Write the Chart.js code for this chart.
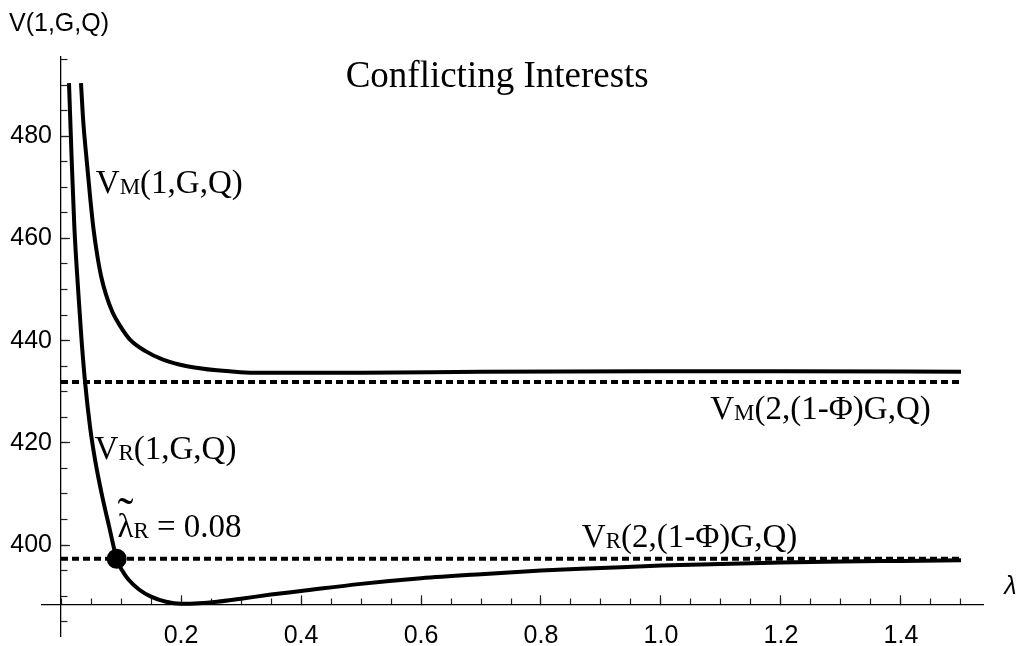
<!DOCTYPE html>
<html><head><meta charset="utf-8">
<script src="https://cdn.jsdelivr.net/npm/chart.js@4.4.1/dist/chart.umd.min.js"></script>
<style>html,body{margin:0;padding:0;background:#fff;}canvas{display:block;}</style>
</head><body>
<canvas id="c" width="1021" height="646"></canvas>
<script>
// ---- data ----
const lambdaVR = [0.0133, 0.0178, 0.0222, 0.0289, 0.034, 0.040, 0.0483, 0.0567, 0.0678, 0.0806, 0.0928, 0.102, 0.112, 0.130, 0.150, 0.175, 0.200, 0.230, 0.260, 0.300, 0.350, 0.400, 0.500, 0.600, 0.700, 0.800, 0.900, 1.000, 1.100, 1.200, 1.300, 1.400, 1.500];
const valuesVR = [490.4, 475.3, 462.3, 449.3, 440.5, 432.0, 423.2, 416.7, 410.0, 403.4, 397.3, 395.0, 393.3, 391.3, 389.9, 388.9, 388.5, 388.6, 388.9, 389.5, 390.3, 391.0, 392.4, 393.5, 394.3, 395.0, 395.5, 396.0, 396.3, 396.6, 396.8, 396.9, 397.0];
const lambdaVM = [0.0333, 0.037, 0.043, 0.049, 0.054, 0.060, 0.067, 0.075, 0.086, 0.099, 0.115, 0.140, 0.170, 0.210, 0.260, 0.330, 0.500, 0.700, 1.000, 1.200, 1.500];
const valuesVM = [490.4, 483.0, 475.0, 467.5, 462.0, 457.0, 452.5, 449.0, 445.5, 442.8, 440.2, 438.0, 436.3, 435.0, 434.2, 433.7, 433.7, 433.9, 434.0, 434.0, 433.9];
const vm2Value = 431.9;          // V_M(2,(1-Φ)G,Q)
const vr2Value = 397.3;          // V_R(2,(1-Φ)G,Q)
const dashLambda = [0, 1.5];
const crossLambda = 0.0928;      // marked point
const xTickValues = [0.2, 0.4, 0.6, 0.8, 1.0, 1.2, 1.4];
const xTickLabels = ['0.2', '0.4', '0.6', '0.8', '1.0', '1.2', '1.4'];
const yTickValues = [400, 420, 440, 460, 480];
const yTickLabels = ['400', '420', '440', '460', '480'];
const titleText = 'Conflicting Interests';
const yAxisTitle = 'V(1,G,Q)';
const xAxisTitle = 'λ';

const X_MIN = -0.0317, X_MAX = 1.5367, Y_MIN = 382.2, Y_MAX = 495.5, AXIS_Y = 388.3;
const SERIF = '"Liberation Serif", "Times New Roman", serif';
const SANS = '"Liberation Sans", Arial, sans-serif';

function drawSubLabel(ctx, x, y, main, sub, rest, size) {
  ctx.font = size + 'px ' + SERIF;
  ctx.textAlign = 'left'; ctx.textBaseline = 'alphabetic';
  ctx.fillText(main, x, y);
  let w = ctx.measureText(main).width;
  const subSize = Math.round(size * 0.71);
  ctx.font = subSize + 'px ' + SERIF;
  ctx.fillText(sub, x + w, y + 1);
  w += ctx.measureText(sub).width;
  ctx.font = size + 'px ' + SERIF;
  ctx.fillText(rest, x + w, y);
  return x + w + ctx.measureText(rest).width;
}

const textPlugin = {
  id: 'texts',
  afterDraw(chart) {
    const {ctx} = chart;
    const xs = chart.scales.x, ys = chart.scales.y;
    const px = v => xs.getPixelForValue(v), py = v => ys.getPixelForValue(v);
    ctx.save();
    ctx.fillStyle = '#000';
    // title
    ctx.font = '37px ' + SERIF; ctx.textAlign = 'center'; ctx.textBaseline = 'alphabetic';
    ctx.fillText(titleText, px(0.727), py(489.7));
    // axis titles
    ctx.font = '25px ' + SANS; ctx.textAlign = 'left';
    ctx.fillText(yAxisTitle, 9, 31);
    ctx.font = 'italic 25px ' + SANS;
    ctx.fillText(xAxisTitle, px(1.572), py(AXIS_Y) - 11);
    // curve labels
    drawSubLabel(ctx, px(0.058), py(468.9), 'V', 'M', '(1,G,Q)', 33);
    drawSubLabel(ctx, px(0.056), py(416.8), 'V', 'R', '(1,G,Q)', 33);
    drawSubLabel(ctx, px(1.082), py(424.6), 'V', 'M', '(2,(1-Φ)G,Q)', 33);
    drawSubLabel(ctx, px(0.868), py(399.6), 'V', 'R', '(2,(1-Φ)G,Q)', 33);
    // lambda tilde label
    const lx = px(0.094), ly = py(401.6);
    ctx.font = '33px ' + SERIF;
    const lw = ctx.measureText('λ').width;
    drawSubLabel(ctx, lx, ly, 'λ', 'R', ' = 0.08', 33);
    ctx.font = '48px ' + SERIF; ctx.textAlign = 'center';
    ctx.fillText('˜', lx + lw / 2, ly - 6);
    ctx.restore();
  }
};

const axisColor = '#000';
new Chart(document.getElementById('c'), {
  type: 'line',
  data: {
    datasets: [
      { data: dashLambda.map(l => ({x: l, y: vm2Value})), borderColor: '#000', borderWidth: 4, borderDash: [7, 4], pointRadius: 0 },
      { data: dashLambda.map(l => ({x: l, y: vr2Value})), borderColor: '#000', borderWidth: 4, borderDash: [7, 4], pointRadius: 0 },
      { data: lambdaVM.map((l, i) => ({x: l, y: valuesVM[i]})), borderColor: '#000', borderWidth: 4, pointRadius: 0, cubicInterpolationMode: 'monotone' },
      { data: lambdaVR.map((l, i) => ({x: l, y: valuesVR[i]})), borderColor: '#000', borderWidth: 4, pointRadius: 0, cubicInterpolationMode: 'monotone' },
      { type: 'scatter', data: [{x: crossLambda, y: vr2Value}], pointRadius: 10, backgroundColor: '#000', borderColor: '#000', borderWidth: 0 }
    ]
  },
  options: {
    responsive: false, animation: false, devicePixelRatio: 1,
    layout: {padding: {left: 42, top: 57, right: 38, bottom: 9}},
    plugins: {legend: {display: false}, tooltip: {enabled: false}},
    scales: {
      x: {
        type: 'linear', min: X_MIN, max: X_MAX, position: {y: AXIS_Y},
        afterBuildTicks: s => { s.ticks = xTickValues.map(v => ({value: v})); },
        ticks: {callback: (v, i) => xTickLabels[i], font: {family: SANS, size: 25}, color: '#000', padding: 26, maxRotation: 0, autoSkip: false},
        grid: {drawOnChartArea: false, drawTicks: true, tickLength: -10, tickColor: '#222', tickWidth: 1.2},
        border: {display: true, color: axisColor, width: 1.3}
      },
      xMinor: {
        type: 'linear', axis: 'x', min: X_MIN, max: X_MAX, position: {y: AXIS_Y},
        ticks: {stepSize: 0.05, includeBounds: false, callback: () => '', font: {size: 1}},
        grid: {drawOnChartArea: false, drawTicks: true, tickLength: -6.5, tickColor: '#222', tickWidth: 1.2},
        border: {display: false}
      },
      y: {
        type: 'linear', min: Y_MIN, max: Y_MAX, position: {x: 0},
        afterBuildTicks: s => { s.ticks = yTickValues.map(v => ({value: v})); },
        ticks: {callback: (v, i) => yTickLabels[i] + ' \u200A', font: {family: SANS, size: 25}, color: '#000', padding: -12, autoSkip: false},
        grid: {drawOnChartArea: false, drawTicks: true, tickLength: -10, tickColor: '#222', tickWidth: 1.2},
        border: {display: true, color: axisColor, width: 1.3}
      },
      yMinor: {
        type: 'linear', axis: 'y', min: Y_MIN, max: Y_MAX, position: {x: 0},
        ticks: {stepSize: 5, includeBounds: false, callback: () => '', font: {size: 1}, padding: 0},
        grid: {drawOnChartArea: false, drawTicks: true, tickLength: -6.5, tickColor: '#222', tickWidth: 1.2},
        border: {display: false}
      }
    }
  },
  plugins: [textPlugin]
});
</script>
</body></html>
